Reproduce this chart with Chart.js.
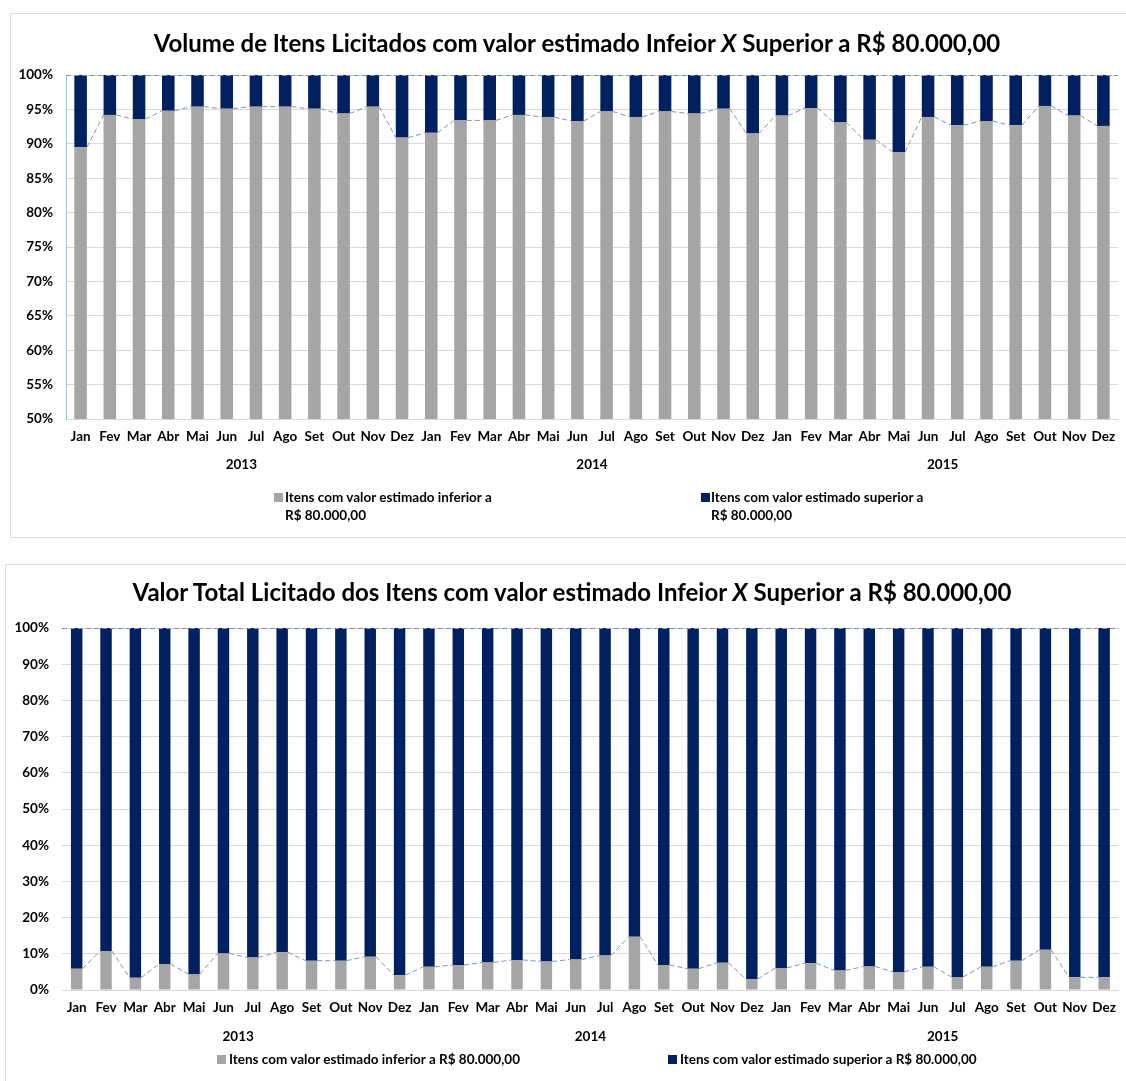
<!DOCTYPE html>
<html>
<head>
<meta charset="utf-8">
<script src="https://cdn.jsdelivr.net/npm/chart.js@4.4.0/dist/chart.umd.min.js"></script>
<style>
  body { margin: 0; background: #fff; font-family: Lato, sans-serif; }
  #page { position: relative; width: 1126px; height: 1081px; overflow: hidden; }
  .box { position: absolute; border: 1px solid #d9dde3; background: #fff; }
  .title { position: absolute; transform: translateX(-50%); white-space: nowrap;
           font: bold 24px Lato, sans-serif; color: #000; }
  .leg { position: absolute; font: bold 13.5px Lato, sans-serif; color: #000; line-height: 18px; white-space: nowrap; }
  .sq { position: absolute; width: 9px; height: 9px; }
  canvas { position: absolute; left: 0; }
</style>
</head>
<body>
<div id="page">
  <div class="box" style="left:10px;top:13px;width:1140px;height:523px;"></div>
  <div class="box" style="left:5px;top:564px;width:1140px;height:540px;"></div>

  <canvas id="volChart" style="top:0;"></canvas>
  <canvas id="valChart" style="top:560px;"></canvas>

  <div class="title" style="left:577px;top:28px;">Volume de Itens Licitados com valor estimado Infeior <i>X</i> Superior a R$ 80.000,00</div>
  <div class="title" style="left:572px;top:577px;">Valor Total Licitado dos Itens com valor estimado Infeior <i>X</i> Superior a R$ 80.000,00</div>

  <div class="sq" style="left:274px;top:493px;background:#a5a5a5;"></div>
  <div class="leg" style="left:285px;top:488px;">Itens com valor estimado inferior a<br>R$ 80.000,00</div>
  <div class="sq" style="left:701px;top:493px;background:#002060;"></div>
  <div class="leg" style="left:711px;top:488px;">Itens com valor estimado superior a<br>R$ 80.000,00</div>

  <div class="sq" style="left:217px;top:1055px;background:#a5a5a5;"></div>
  <div class="leg" style="left:229px;top:1050px;">Itens com valor estimado inferior a R$ 80.000,00</div>
  <div class="sq" style="left:668px;top:1055px;background:#002060;"></div>
  <div class="leg" style="left:680px;top:1050px;">Itens com valor estimado superior a R$ 80.000,00</div>
</div>

<script>
const months = ['Jan', 'Fev', 'Mar', 'Abr', 'Mai', 'Jun', 'Jul', 'Ago', 'Set', 'Out', 'Nov', 'Dez',
                'Jan', 'Fev', 'Mar', 'Abr', 'Mai', 'Jun', 'Jul', 'Ago', 'Set', 'Out', 'Nov', 'Dez',
                'Jan', 'Fev', 'Mar', 'Abr', 'Mai', 'Jun', 'Jul', 'Ago', 'Set', 'Out', 'Nov', 'Dez'];
const years = ['2013', '2014', '2015'];

// Volume de itens (%)
const volInferior = [89.5, 94.2, 93.6, 94.8, 95.4, 95.1, 95.4, 95.4, 95.1, 94.4, 95.4, 90.9,
                     91.6, 93.4, 93.4, 94.2, 93.9, 93.3, 94.7, 93.9, 94.7, 94.4, 95.1, 91.5,
                     94.1, 95.2, 93.1, 90.6, 88.8, 93.9, 92.7, 93.3, 92.7, 95.5, 94.1, 92.6];
const volSuperior = [10.5, 5.8, 6.4, 5.2, 4.6, 4.9, 4.6, 4.6, 4.9, 5.6, 4.6, 9.1,
                     8.4, 6.6, 6.6, 5.8, 6.1, 6.7, 5.3, 6.1, 5.3, 5.6, 4.9, 8.5,
                     5.9, 4.8, 6.9, 9.4, 11.2, 6.1, 7.3, 6.7, 7.3, 4.5, 5.9, 7.4];

// Valor total licitado (%)
const valInferior = [5.9, 10.8, 3.4, 7.2, 4.4, 10.1, 9.0, 10.4, 8.1, 8.1, 9.2, 4.1,
                     6.4, 6.9, 7.6, 8.3, 7.9, 8.4, 9.5, 14.7, 6.9, 5.9, 7.5, 3.0,
                     6.1, 7.4, 5.4, 6.5, 5.0, 6.4, 3.6, 6.4, 8.1, 11.1, 3.5, 3.5];
const valSuperior = [94.1, 89.2, 96.6, 92.8, 95.6, 89.9, 91.0, 89.6, 91.9, 91.9, 90.8, 95.9,
                     93.6, 93.1, 92.4, 91.7, 92.1, 91.6, 90.5, 85.3, 93.1, 94.1, 92.5, 97.0,
                     93.9, 92.6, 94.6, 93.5, 95.0, 93.6, 96.4, 93.6, 91.9, 88.9, 96.5, 96.5];

const volTicks = [50, 55, 60, 65, 70, 75, 80, 85, 90, 95, 100];
const valTicks = [0, 10, 20, 30, 40, 50, 60, 70, 80, 90, 100];

const FONT = 'Lato';

// linhas de série tracejadas + linha de 100% + anos
const seriesLines = {
    id: 'seriesLines',
    afterDatasetsDraw(chart) {
        const ctx = chart.ctx;
        const a = chart.chartArea;
        ctx.save();
        ctx.strokeStyle = '#7f93b3';
        ctx.lineWidth = 1;
        ctx.setLineDash([5, 3]);
        ctx.beginPath();
        ctx.moveTo(a.left, Math.round(a.top) + 0.5);
        ctx.lineTo(a.right, Math.round(a.top) + 0.5);
        const bars = chart.getDatasetMeta(0).data;
        for (let i = 0; i < bars.length - 1; i++) {
            const b = bars[i], n = bars[i + 1];
            ctx.moveTo(b.x + b.width / 2, b.y);
            ctx.lineTo(n.x - n.width / 2, n.y);
        }
        ctx.stroke();
        ctx.restore();
    },
    afterDraw(chart, args, opts) {
        const ctx = chart.ctx;
        const x = chart.scales.x;
        ctx.save();
        ctx.fillStyle = '#000';
        ctx.font = 'bold 13.5px ' + FONT;
        ctx.textAlign = 'center';
        ctx.textBaseline = 'middle';
        years.forEach((y, i) => {
            const px = (x.getPixelForValue(i * 12) + x.getPixelForValue(i * 12 + 11)) / 2;
            ctx.fillText(y, px, opts.yearY);
        });
        ctx.restore();
    }
};

function makeChart(id, h, inf, sup, ticks, cfg) {
    const canvas = document.getElementById(id);
    canvas.width = 1126;
    canvas.height = h;
    canvas.style.width = '1126px';
    canvas.style.height = h + 'px';
    return new Chart(canvas.getContext('2d'), {
        type: 'bar',
        data: {
            labels: months,
            datasets: [{
                label: 'Itens com valor estimado inferior a R$ 80.000,00',
                data: inf,
                backgroundColor: '#a5a5a5',
                barPercentage: cfg.barPct,
                categoryPercentage: 1
            }, {
                label: 'Itens com valor estimado superior a R$ 80.000,00',
                data: sup,
                backgroundColor: '#002060',
                barPercentage: cfg.barPct,
                categoryPercentage: 1
            }]
        },
        options: {
            responsive: false,
            animation: false,
            layout: { padding: { left: 0, top: cfg.top, right: cfg.right, bottom: 0 } },
            plugins: {
                legend: { display: false },
                title: { display: false },
                tooltip: { enabled: false },
                seriesLines: { yearY: cfg.yearY }
            },
            scales: {
                x: {
                    stacked: true,
                    grid: { display: false, drawTicks: false },
                    border: { display: false },
                    ticks: { color: '#000', font: { family: FONT, size: 13.5, weight: 'bold' },
                             padding: cfg.xPad, maxRotation: 0, autoSkip: false },
                    afterFit(s) { s.height = cfg.xHeight; }
                },
                y: {
                    stacked: true,
                    min: ticks[0],
                    max: 100,
                    afterBuildTicks(s) { s.ticks = ticks.map(v => ({ value: v })); },
                    grid: { color: '#d9d9d9', drawTicks: false },
                    border: { display: cfg.axisLine, color: '#9dc3e6' },
                    ticks: { color: '#000', font: { family: FONT, size: 13.5, weight: 'bold' },
                             padding: 13, callback: v => v + '%' },
                    afterFit(s) { s.width = cfg.yWidth; }
                }
            }
        },
        plugins: [seriesLines]
    });
}

makeChart('volChart', 540, volInferior, volSuperior, volTicks,
    { barPct: 0.43, top: 75, right: 8, xHeight: 121, xPad: 10, yWidth: 66, yearY: 465, axisLine: true });
makeChart('valChart', 521, valInferior, valSuperior, valTicks,
    { barPct: 0.39, top: 68, right: 6, xHeight: 91, xPad: 10, yWidth: 62, yearY: 477, axisLine: false });
</script>
</body>
</html>
